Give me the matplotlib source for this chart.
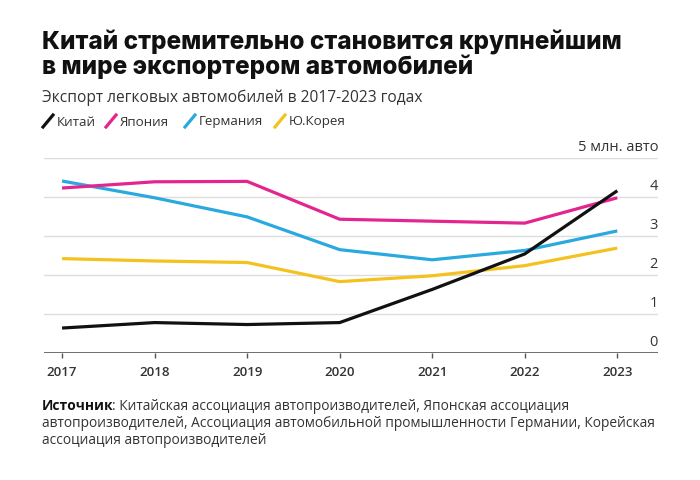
import matplotlib
matplotlib.use('Agg')
import matplotlib.pyplot as plt
import matplotlib.transforms as mtransforms
from matplotlib.lines import Line2D

# данные (млн. авто)
years = [2017, 2018, 2019, 2020, 2021, 2022, 2023]
china = [0.64, 0.78, 0.73, 0.78, 1.63, 2.54, 4.16]
japan = [4.23, 4.39, 4.40, 3.43, 3.38, 3.33, 3.98]
germany = [4.41, 3.98, 3.49, 2.65, 2.39, 2.63, 3.13]
korea = [2.42, 2.36, 2.32, 1.83, 1.98, 2.24, 2.69]

series_names = ['Китай', 'Япония', 'Германия', 'Ю.Корея']
series_colors = ['#111111', '#e3268f', '#2aa9e0', '#f4c21f']
y_ticks = [0, 1, 2, 3, 4, 5]
y_labels = ['0', '1', '2', '3', '4', '5 млн. авто']

plt.rcParams['font.family'] = ['Open Sans', 'DejaVu Sans']

W, H = 700, 481
fig = plt.figure(figsize=(W / 100, H / 100), dpi=100)
fig.patch.set_facecolor('white')

def fx(px):
    return px / W

def fy(py):
    return 1 - py / H

# axes: left 44px, right 658px, top (y=5) 159px, bottom (y=0) 354px
ax = fig.add_axes([fx(44), fy(354), fx(658) - fx(44), fy(159) - fy(354)])
ax.set_xlim(2016.805, 2023.44)
ax.set_ylim(0, 5)

for vals, col in zip([china, japan, germany, korea][::-1], series_colors[::-1]):
    ax.plot(years, vals, color=col, lw=2.3, solid_capstyle='butt', zorder=3)

# сетка
for v in y_ticks[1:]:
    ax.axhline(v, color='#dddddd', lw=1.0, zorder=1)
ax.axhline(0, color='#555555', lw=1.2, zorder=2)

for s in ax.spines.values():
    s.set_visible(False)
ax.set_yticks([])
ax.set_xticks(years)
ax.set_xticklabels([str(y) for y in years], fontsize=9.5, color='#333333',
                   fontweight='semibold')
ax.tick_params(axis='x', length=3.5, width=1, color='#555555', pad=5)

trans = mtransforms.blended_transform_factory(ax.transAxes, ax.transData)
for v, lab in zip(y_ticks, y_labels):
    ax.text(1.0, v, lab, transform=trans, ha='right', va='bottom',
            fontsize=10.5, color='#333333')
for t in ax.texts:
    t.set_transform(t.get_transform() + mtransforms.ScaledTranslation(0, 4 / 100, fig.dpi_scale_trans))

# заголовок
title_font = ['Inter', 'DejaVu Sans']
fig.text(fx(42), fy(49.5), 'Китай стремительно становится крупнейшим',
         fontsize=17.5, fontweight='heavy', color='#111111', va='baseline', family=title_font)
fig.text(fx(42), fy(74), 'в мире экспортером автомобилей',
         fontsize=17.5, fontweight='heavy', color='#111111', va='baseline', family=title_font)
fig.text(fx(42), fy(98), 'Экспорт легковых автомобилей в 2017-2023 годах',
         fontsize=11.2, color='#333333', va='center')

# легенда
leg_x = [42, 105, 184, 274]
for x0, name, col in zip(leg_x, series_names, series_colors):
    fig.add_artist(Line2D([fx(x0 + 1), fx(x0 + 11)], [fy(128), fy(116)],
                          color=col, lw=2.3, transform=fig.transFigure))
    fig.text(fx(x0 + 15), fy(122), name, fontsize=9.6, color='#333333', va='center')

# источник
src = fig.text(fx(42), fy(410), 'Источник', fontsize=9.9, fontweight='bold',
               color='#111111', va='baseline')
renderer = fig.canvas.get_renderer()
bb = src.get_window_extent(renderer=renderer)
fig.text((bb.x1 - 2) / fig.bbox.width, fy(410),
         ': Китайская ассоциация автопроизводителей, Японская ассоциация',
         fontsize=9.9, color='#333333', va='baseline')
fig.text(fx(42), fy(427), 'автопроизводителей, Ассоциация автомобильной промышленности Германии, Корейская',
         fontsize=9.9, color='#333333', va='baseline')
fig.text(fx(42), fy(444), 'ассоциация автопроизводителей',
         fontsize=9.9, color='#333333', va='baseline')

fig.savefig('out.png', dpi=100, facecolor='white')
